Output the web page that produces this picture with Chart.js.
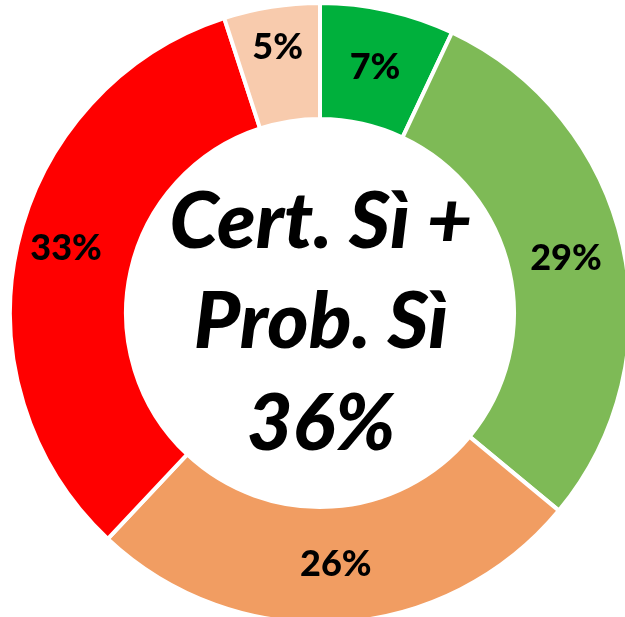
<!DOCTYPE html>
<html>
<head>
<meta charset="utf-8">
<script src="https://cdn.jsdelivr.net/npm/chart.js@4"></script>
<style>
  html, body { margin: 0; padding: 0; background: #fff; overflow: hidden; width: 625px; height: 617px; }
  #wrap { position: absolute; left: 0; top: -7px; width: 640px; height: 640px; }
</style>
</head>
<body>
<div id="wrap"><canvas id="donut" width="640" height="640"></canvas></div>
<script>
// data, clockwise from the top
const categories = ['Certamente Sì', 'Probabilmente Sì', 'Probabilmente No', 'Certamente No', 'Non so'];
const shares = [7, 29, 26, 33, 5];
const sliceColors = ['#00B03C', '#7EBA56', '#F19D62', '#FF0000', '#F8CBAD'];
const centerLines = ['Cert. Sì +', 'Prob. Sì', '36%'];

// small manual nudges for labels that sit off-centre in the original
const labelNudge = { 3: [-8, -10], 4: [-3, -17] };

const sliceLabels = {
  id: 'sliceLabels',
  afterDatasetsDraw(chart) {
    const ctx = chart.ctx;
    const meta = chart.getDatasetMeta(0);
    ctx.save();
    ctx.font = '900 36px Lato';
    ctx.fillStyle = '#000';
    ctx.textAlign = 'center';
    ctx.textBaseline = 'middle';
    meta.data.forEach((arc, i) => {
      const p = arc.tooltipPosition();
      const n = labelNudge[i] || [0, 0];
      ctx.fillText(shares[i] + '%', p.x + n[0], p.y + n[1]);
    });
    ctx.restore();
  }
};

const centerText = {
  id: 'centerText',
  afterDraw(chart) {
    const ctx = chart.ctx, a = chart.chartArea;
    const cx = (a.left + a.right) / 2, cy = (a.top + a.bottom) / 2;
    ctx.save();
    ctx.font = 'italic 900 79px Lato';
    ctx.fillStyle = '#000';
    ctx.textAlign = 'center';
    ctx.textBaseline = 'alphabetic';
    const offs = [-65, 35, 137];
    centerLines.forEach((t, i) => ctx.fillText(t, cx + 1, cy + offs[i]));
    ctx.restore();
  }
};

new Chart(document.getElementById('donut'), {
  type: 'doughnut',
  data: {
    labels: categories,
    datasets: [{
      data: shares,
      backgroundColor: sliceColors,
      borderColor: '#fff',
      borderWidth: 4
    }]
  },
  options: {
    responsive: false,
    animation: false,
    radius: 310,
    cutout: 199,
    layout: { padding: 0 },
    plugins: { legend: { display: false }, tooltip: { enabled: false } }
  },
  plugins: [sliceLabels, centerText]
});
</script>
</body>
</html>
